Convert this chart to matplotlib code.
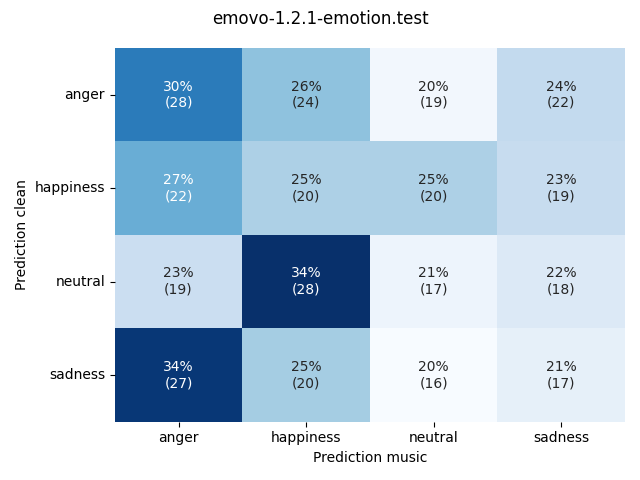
import numpy as np
import matplotlib
matplotlib.use("Agg")
from matplotlib import pyplot as plt
import seaborn as sns

# emotion labels (rows: clean prediction, cols: music prediction)
labels = ["anger", "happiness", "neutral", "sadness"]

# raw counts
counts = np.array([
    [28, 24, 19, 22],
    [22, 20, 20, 19],
    [19, 28, 17, 18],
    [27, 20, 16, 17],
])

# row-normalised percentages
perc = counts / counts.sum(axis=1, keepdims=True) * 100

annot = np.empty(counts.shape, dtype=object)
for i in range(counts.shape[0]):
    for j in range(counts.shape[1]):
        annot[i, j] = "%.0f%%\n(%d)" % (perc[i, j], counts[i, j])

fig, ax = plt.subplots(figsize=(6.4, 4.8), dpi=100)
sns.heatmap(perc, annot=annot, fmt="", cmap="Blues", cbar=False,
            xticklabels=labels, yticklabels=labels, ax=ax)
fig.suptitle("emovo-1.2.1-emotion.test")
ax.set_xlabel("Prediction music")
ax.set_ylabel("Prediction clean")
plt.yticks(rotation=0)
plt.tight_layout()
plt.savefig("out.png")
